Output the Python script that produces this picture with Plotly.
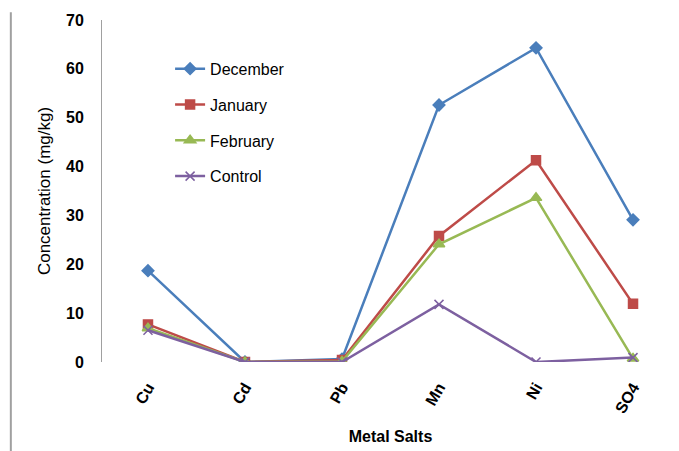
import plotly.graph_objects as go

# Metal salt categories on the x axis
metals = ["Cu", "Cd", "Pb", "Mn", "Ni", "SO4"]

# Concentrations (mg/kg) per sampling month
december = [18.7, 0.0, 0.6, 52.6, 64.3, 29.1]
january = [7.7, 0.0, 0.4, 25.8, 41.3, 11.9]
february = [6.9, 0.0, 0.1, 24.1, 33.6, 0.7]
control = [6.5, 0.0, 0.0, 11.8, 0.0, 0.9]

y_ticks = [0, 10, 20, 30, 40, 50, 60, 70]

series = [
    ("December", december, "#4A7EBB", "diamond", 9),
    ("January", january, "#BE4B48", "square", 9),
    ("February", february, "#98B954", "triangle-up", 10),
    ("Control", control, "#7D60A0", "x-thin-open", 9),
]

fig = go.Figure()
for i, (name, vals, color, symbol, size) in enumerate(series):
    fig.add_trace(go.Scatter(
        x=metals, y=vals, name=name, mode="lines+markers",
        line=dict(color=color, width=2.5),
        marker=dict(symbol=symbol, size=size, color=color,
                    line=dict(color="#B9A8D0" if symbol.startswith("x") else color, width=1.5)),
        legendgroup=f"g{i}",
    ))

font_family = "Liberation Sans, Arial, sans-serif"

fig.update_layout(
    width=679, height=451,
    margin=dict(l=102, r=0, t=20, b=89),
    paper_bgcolor="white", plot_bgcolor="white",
    font=dict(family=font_family, color="black", size=16),
    showlegend=True,
    legend=dict(
        x=0.118, y=0.907, xanchor="left", yanchor="top",
        bgcolor="rgba(0,0,0,0)", tracegroupgap=12,
        font=dict(size=16, family=font_family),
        itemwidth=30,
    ),
    xaxis=dict(
        type="category", range=[-0.474, 5.474],
        showgrid=False, showline=False, zeroline=False,
        tickangle=-60, ticks="", ticklabelstandoff=12,
        tickfont=dict(size=16, family=font_family, weight="bold"),
        title=dict(text="<b>Metal Salts</b>", font=dict(size=16), standoff=15),
    ),
    yaxis=dict(
        range=[0, 70], tickvals=y_ticks,
        showgrid=False, zeroline=False,
        showline=True, linecolor="#A0A0A0", linewidth=1,
        ticks="", ticklabelstandoff=14,
        tickfont=dict(size=16, family=font_family, weight="bold"),
        title=dict(text="Concentration (mg/kg)", font=dict(size=17), standoff=11),
    ),
)

# Thin frame line along the left edge of the figure
fig.add_shape(type="line", xref="paper", yref="paper",
              x0=-0.158, x1=-0.158, y0=-0.27, y1=1.023,
              line=dict(color="#A0A0A0", width=2))

fig.write_html("out.html")
